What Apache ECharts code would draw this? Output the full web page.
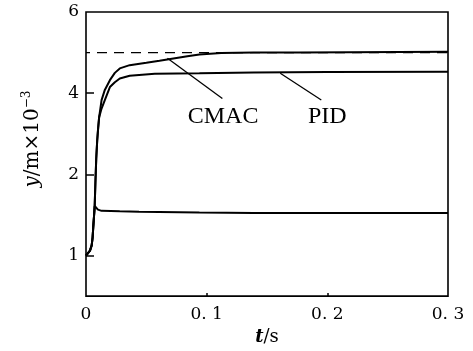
<!DOCTYPE html>
<html>
<head>
<meta charset="utf-8">
<script src="https://cdn.jsdelivr.net/npm/echarts@6/dist/echarts.min.js"></script>
<style>html,body{margin:0;padding:0;background:#fff}#c{width:473px;height:351px}</style>
</head>
<body>
<div id="c"></div>
<script>
// ---- data (t in s, y in m×10^-3 axis units) ----
var lowerT = [0, 0.0033, 0.0047, 0.0055, 0.0060, 0.0066, 0.0072, 0.0082, 0.0099, 0.0129, 0.028, 0.044, 0.094, 0.139, 0.2, 0.3];
var lowerV = [0, 0.12, 0.25, 0.45, 0.70, 0.95, 1.22, 1.20, 1.13, 1.10, 1.09, 1.08, 1.06, 1.05, 1.05, 1.05];

var riseT = [0, 0.0033, 0.0047, 0.0055, 0.0060, 0.0066, 0.0072, 0.0078, 0.0085, 0.0093, 0.0101, 0.0109];
var riseV = [0, 0.12, 0.25, 0.45, 0.70, 0.95, 1.22, 1.80, 2.40, 2.84, 3.15, 3.41];

var cmacT = [0.0129, 0.0156, 0.0198, 0.0239, 0.028, 0.0362, 0.050, 0.0609, 0.084, 0.094, 0.112, 0.139, 0.176, 0.3];
var cmacV = [3.83, 4.08, 4.32, 4.50, 4.61, 4.69, 4.75, 4.80, 4.91, 4.95, 4.99, 5.00, 5.00, 5.02];

var pidT = [0.0129, 0.0156, 0.0198, 0.0239, 0.028, 0.0362, 0.057, 0.094, 0.139, 0.2, 0.3];
var pidV = [3.62, 3.83, 4.15, 4.27, 4.36, 4.43, 4.48, 4.49, 4.51, 4.52, 4.53];

var refT = [0, 0.3];
var refV = [5, 5];

var xTickValues = [0, 0.1, 0.2, 0.3];
var xTickLabels = ['0', '0. 1', '0. 2', '0. 3'];
var yTickValues = [0, 2, 4, 6];
var yTickLabels = ['1', '2', '4', '6'];

var labelNames = ['CMAC', 'PID'];
var labelPos = [[0.1136, 3.43], [0.200, 3.41]];
var leaderFrom = [[0.0675, 4.86], [0.161, 4.49]];
var leaderTo = [[0.113, 3.87], [0.195, 3.83]];

function zip(a, b) { return a.map(function (v, i) { return [v, b[i]]; }); }

var chart = echarts.init(document.getElementById('c'), null, {renderer: 'canvas'});
var tickFont = 'DejaVu Serif';
var lineStyle = {color: '#000', width: 2};

chart.setOption({
  animation: false,
  backgroundColor: '#fff',
  grid: {left: 86, right: 25, top: 12, bottom: 54, show: true, borderColor: '#000', borderWidth: 1.6, backgroundColor: 'transparent'},
  xAxis: {
    type: 'value', min: 0, max: 0.3, interval: 0.1,
    axisLine: {show: false, onZero: false},
    splitLine: {show: false},
    axisTick: {show: true, inside: true, length: 3, customValues: [0.1, 0.2], lineStyle: {color: '#000', width: 1.5}},
    axisLabel: {
      customValues: xTickValues,
      margin: 10, color: '#000', fontFamily: tickFont, fontSize: 17,
      formatter: function (v) { var i = xTickValues.findIndex(function (x) { return Math.abs(x - v) < 1e-9; }); return i >= 0 ? xTickLabels[i] : ''; }
    },
    name: '{i|t}{n|/s}', nameLocation: 'middle', nameGap: 25,
    nameTextStyle: {rich: {
      i: {fontFamily: tickFont, fontStyle: 'italic', fontWeight: 'bold', fontSize: 18, color: '#000'},
      n: {fontFamily: tickFont, fontSize: 18, color: '#000'}
    }}
  },
  yAxis: {
    type: 'value', min: -1, max: 6, interval: 1,
    axisLine: {show: false, onZero: false},
    splitLine: {show: false},
    axisTick: {show: true, inside: true, length: 8, customValues: [0, 2, 4], lineStyle: {color: '#000', width: 1.5}},
    axisLabel: {
      customValues: yTickValues,
      margin: 7, color: '#000', fontFamily: tickFont, fontSize: 17, padding: [9, 0, 0, 0],
      formatter: function (v) { var i = yTickValues.indexOf(v); return i >= 0 ? yTickLabels[i] : ''; }
    }
  },
  graphic: [{
    type: 'text', x: 33, y: 139, rotation: Math.PI / 2,
    style: {
      text: '{i|y}{n|/m×10}{s|−3}',
      align: 'center', verticalAlign: 'middle',
      rich: {
        i: {fontFamily: tickFont, fontStyle: 'italic', fontSize: 20, lineHeight: 24, fill: '#000'},
        n: {fontFamily: tickFont, fontSize: 20, lineHeight: 24, fill: '#000'},
        s: {fontFamily: tickFont, fontSize: 12, lineHeight: 24, verticalAlign: 'top', fill: '#000'}
      }
    }
  }],
  series: [
    {type: 'line', data: zip(refT, refV), symbol: 'none', silent: true,
     lineStyle: {color: '#000', width: 1.3, type: [10, 7], dashOffset: 6}},
    {type: 'line', data: zip(lowerT, lowerV), symbol: 'none', lineStyle: lineStyle},
    {type: 'line', data: zip(riseT, riseV).concat(zip(cmacT, cmacV)), symbol: 'none', lineStyle: lineStyle},
    {type: 'line', data: zip(riseT, riseV).concat(zip(pidT, pidV)), symbol: 'none', lineStyle: lineStyle,
     markLine: {
       silent: true, symbol: ['none', 'none'],
       lineStyle: {color: '#000', width: 1.3, type: 'solid', opacity: 1},
       label: {show: false},
       data: leaderFrom.map(function (p, i) { return [{coord: p}, {coord: leaderTo[i]}]; })
     }},
    {type: 'scatter', symbolSize: 0, silent: true,
     itemStyle: {opacity: 1, color: '#000'},
     data: labelNames.map(function (n, i) { return {name: n, value: labelPos[i]}; }),
     label: {show: true, position: 'inside', formatter: '{b}', color: '#000', opacity: 1,
             textBorderWidth: 0, fontFamily: 'Liberation Serif', fontSize: 24}}
  ]
});
</script>
</body>
</html>
